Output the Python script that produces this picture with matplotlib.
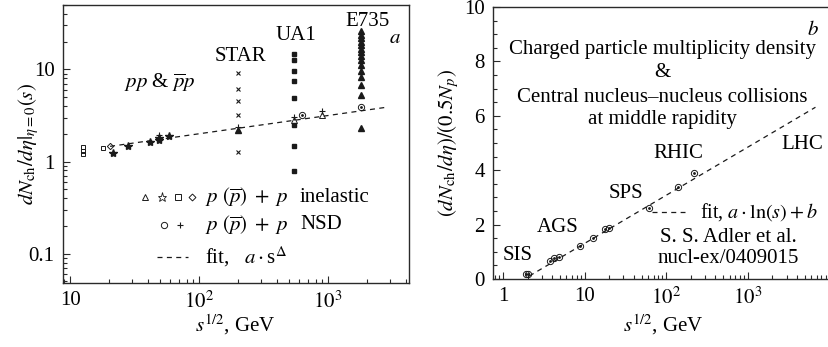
import numpy as np
import matplotlib
matplotlib.use('Agg')
import matplotlib.pyplot as plt
from matplotlib.ticker import FixedLocator, FixedFormatter, LogLocator, MultipleLocator, NullFormatter

plt.rcParams['font.family'] = ['Liberation Serif', 'DejaVu Serif']
plt.rcParams['mathtext.fontset'] = 'stix'
plt.rcParams['font.size'] = 15

# --- панель a: pp и p̄p ---
sq_open_x = [12.5, 12.5, 12.5, 18.1]
sq_open_y = [1.20, 1.31, 1.42, 1.40]
diam_x = [20.2]
diam_y = [1.49]
star_x = [21.6, 28.3, 41.7, 49.2, 49.2, 58.8]
star_y = [1.23, 1.49, 1.62, 1.72, 1.80, 1.87]
plus_x = [49.2, 200, 546, 900]
plus_y = [1.95, 2.37, 3.08, 3.50]
star_exp_x = [200, 200, 200, 200, 200]          # STAR
star_exp_y = [9.1, 6.1, 4.5, 3.2, 1.28]
ua1_x = [546] * 8                                # UA1
ua1_y = [14.8, 12.7, 9.5, 7.5, 4.9, 2.5, 1.49, 0.79]
tri_open_x = [546, 900]
tri_open_y = [2.84, 3.22]
tri_x = [1800] * 15 + [200]                      # E735 + одна точка при 200 ГэВ
tri_y = [25.9, 23.5, 21.8, 20.0, 18.4, 16.8, 15.4, 14.1, 12.7, 11.2,
         9.7, 8.25, 6.8, 5.3, 2.3, 2.21]
odot_x = [630, 1800]
odot_y = [3.16, 3.90]
fit_a, fit_delta = 0.804, 0.099
fit_range = [20.4, 2920]

# --- панель b: ядро-ядро ---
aa_x = [1.9, 2.0, 3.8, 4.2, 4.9, 8.8, 12.8, 17.8, 20.1, 60.8, 140, 220]
aa_y = [0.17, 0.19, 0.67, 0.76, 0.82, 1.21, 1.52, 1.84, 1.89, 2.60, 3.39, 3.91]
fit_b_a, fit_b_b = 0.384, -0.46
fit_b_range = [2.1, 6770]

col = '#1a1a1a'

fig = plt.figure(figsize=(8.29, 3.47), dpi=100)
ax1 = fig.add_axes([0.076, 0.1844, 0.4174, 0.8012])
ax2 = fig.add_axes([0.5947, 0.196, 0.4073, 0.7838])

for ax in (ax1, ax2):
    for s in ax.spines.values():
        s.set_color('#2a2a2a')
        s.set_linewidth(1.0)
    ax.tick_params(which='both', direction='in', color='#2a2a2a', width=0.8, pad=6)
    ax.tick_params(which='major', length=5)
    ax.tick_params(which='minor', length=3)

# панель a
ax1.set_xscale('log')
ax1.set_yscale('log')
ax1.set_xlim(8.8, 4250)
ax1.set_ylim(0.048, 50)

xf = np.geomspace(fit_range[0], fit_range[1], 100)
ax1.plot(xf, fit_a * (xf ** 2) ** fit_delta, color=col, lw=0.9, dashes=(4, 3.5))

kw = dict(linestyle='none', color=col)
ax1.plot(sq_open_x, sq_open_y, marker='s', ms=3.5, mfc='none', mew=0.7, **kw)
ax1.plot(diam_x, diam_y, marker='D', ms=3.2, mfc='none', mew=0.7, **kw)
ax1.plot(star_x, star_y, marker='*', ms=6, **kw)
ax1.plot(star_exp_x, star_exp_y, marker='x', ms=3.5, mew=0.8, **kw)
ax1.plot(ua1_x, ua1_y, marker='s', ms=3.5, **kw)
ax1.plot(tri_x, tri_y, marker='^', ms=4, **kw)
ax1.plot(tri_open_x, tri_open_y, marker='^', ms=4.5, mfc='none', mew=0.7, **kw)
ax1.plot(plus_x, plus_y, marker='+', ms=5, mew=0.8, **kw)
ax1.plot(odot_x, odot_y, marker='o', ms=4.5, mfc='none', mew=0.7, **kw)
ax1.plot(odot_x, odot_y, marker='.', ms=2, **kw)

ax1.xaxis.set_major_locator(FixedLocator([10, 100, 1000]))
ax1.xaxis.set_major_formatter(FixedFormatter(['10', r'$10^2$', r'$10^3$']))
ax1.xaxis.set_minor_locator(LogLocator(base=10, subs=np.arange(2, 10)))
ax1.xaxis.set_minor_formatter(NullFormatter())
ax1.yaxis.set_major_locator(FixedLocator([0.1, 1, 10]))
ax1.yaxis.set_major_formatter(FixedFormatter(['0.1', '1', '10']))
ax1.yaxis.set_minor_locator(LogLocator(base=10, subs=np.arange(2, 10)))
ax1.yaxis.set_minor_formatter(NullFormatter())

ax1.set_xlabel(r'$s^{1/2}$, GeV')
ax1.xaxis.set_label_coords(0.497, -0.15)
ax1.xaxis.label.set_va('center')
ax1.set_ylabel(r'$dN_{\rm ch}/d\eta|_{\eta=0}(s)$')
ax1.yaxis.set_label_coords(-0.10, 0.50)
ax1.yaxis.label.set_va('center')

ax1.text(208, 13.7, 'STAR', ha='center', va='center')
ax1.text(565, 23.2, 'UA1', ha='center', va='center')
ax1.text(2040, 33, 'E735', ha='center', va='center')
ax1.text(3310, 21.6, r'$a$', ha='center', va='center')
ax1.text(50, 7.2, r'$pp$ & $\overline{p}p$', ha='center', va='center')

# легенда панели a
T = ax1.transAxes
lk = dict(transform=T, clip_on=False, linestyle='none', color=col)
ax1.plot([0.237], [0.309], marker='^', ms=4.5, mfc='none', mew=0.7, **lk)
ax1.plot([0.286], [0.309], marker='*', ms=6.5, mfc='none', mew=0.6, **lk)
ax1.plot([0.332], [0.309], marker='s', ms=4, mfc='none', mew=0.7, **lk)
ax1.plot([0.373], [0.309], marker='D', ms=3.5, mfc='none', mew=0.7, **lk)
ax1.plot([0.292], [0.209], marker='o', ms=4.5, mfc='none', mew=0.7, **lk)
ax1.plot([0.338], [0.209], marker='+', ms=5, mew=0.8, **lk)
ax1.plot([0.272, 0.361], [0.094, 0.094], transform=T, clip_on=False,
         color=col, lw=0.9, dashes=(4, 3.5))
ax1.text(0.41, 0.309, r'$p\ (\overline{p})\ +\ p$', transform=T, va='center')
ax1.text(0.685, 0.309, 'inelastic', transform=T, va='center')
ax1.text(0.41, 0.209, r'$p\ (\overline{p})\ +\ p$', transform=T, va='center')
ax1.text(0.685, 0.209, 'NSD', transform=T, va='center')
ax1.text(0.41, 0.094, r'fit,   $a\cdot$s$^{\Delta}$', transform=T, va='center')

# панель b
ax2.set_xscale('log')
ax2.set_xlim(0.754, 10400)
ax2.set_ylim(0, 10)
ax2.spines['right'].set_visible(False)

xb = np.geomspace(fit_b_range[0], fit_b_range[1], 100)
ax2.plot(xb, fit_b_a * np.log(xb ** 2) + fit_b_b, color=col, lw=0.9, dashes=(4, 3.5))
ax2.plot(aa_x, aa_y, marker='o', ms=4.5, mfc='none', mew=0.7, **kw)
ax2.plot(aa_x, aa_y, marker='.', ms=2, **kw)

ax2.xaxis.set_major_locator(FixedLocator([1, 10, 100, 1000]))
ax2.xaxis.set_major_formatter(FixedFormatter(['1', '10', r'$10^2$', r'$10^3$']))
ax2.xaxis.set_minor_locator(LogLocator(base=10, subs=np.arange(2, 10)))
ax2.xaxis.set_minor_formatter(NullFormatter())
ax2.yaxis.set_major_locator(MultipleLocator(2))
ax2.yaxis.set_minor_locator(MultipleLocator(0.5))

ax2.set_xlabel(r'$s^{1/2}$, GeV')
ax2.xaxis.set_label_coords(0.503, -0.169)
ax2.xaxis.label.set_va('center')
ax2.set_ylabel(r'$(dN_{\rm ch}/d\eta)/(0.5N_p)$')
ax2.yaxis.set_label_coords(-0.133, 0.50)
ax2.yaxis.label.set_va('center')

ax2.text(6360, 9.15, r'$b$', ha='center', va='center')
ax2.text(89, 8.42, 'Charged particle multiplicity density', ha='center', va='center')
ax2.text(89, 7.61, '&', ha='center', va='center')
ax2.text(89, 6.69, 'Central nucleus\u2013nucleus collisions', ha='center', va='center')
ax2.text(89, 5.88, 'at middle rapidity', ha='center', va='center')
ax2.text(4660, 4.93, 'LHC', ha='center', va='center')
ax2.text(140, 4.60, 'RHIC', ha='center', va='center')
ax2.text(32.3, 3.16, 'SPS', ha='center', va='center')
ax2.text(4.73, 1.88, 'AGS', ha='center', va='center')
ax2.text(1.53, 0.85, 'SIS', ha='center', va='center')
ax2.plot([67.4, 171], [2.46, 2.46], color=col, lw=0.9, dashes=(4, 3.5))
ax2.text(262, 2.46, r'fit, $a\cdot\ln(s)+b$', va='center', fontsize=14.5)
ax2.text(576, 1.54, 'S. S. Adler et al.', ha='center', va='center')
ax2.text(576, 0.77, 'nucl-ex/0409015', ha='center', va='center')

fig.savefig('out.png', dpi=100)
